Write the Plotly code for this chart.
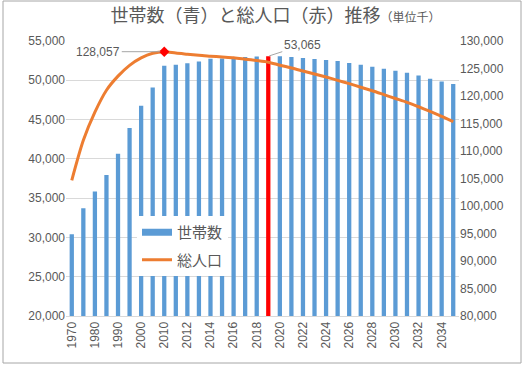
import plotly.graph_objects as go

years = ["1970", "1975", "1980", "1985", "1990", "1995", "2000", "2005",
         "2010", "2011", "2012", "2013", "2014", "2015", "2016", "2017",
         "2018", "2019", "2020", "2021", "2022", "2023", "2024", "2025",
         "2026", "2027", "2028", "2029", "2030", "2031", "2032", "2033",
         "2034", "2035"]

households = [30400, 33700, 35830, 37960, 40650, 43920, 46760, 49080,
              51840, 51970, 52180, 52400, 52740, 52780, 52850, 52950,
              53040, 53065, 53050, 52950, 52830, 52700, 52570, 52440,
              52190, 51970, 51720, 51460, 51210, 50950, 50620, 50190,
              49850, 49520]

population = [104665, 111940, 117060, 121049, 123611, 125570, 126926, 127768,
              128057, 127800, 127600, 127400, 127250, 127100, 126950, 126700,
              126450, 126150, 125600, 125100, 124550, 124000, 123450, 122850,
              122250, 121600, 120950, 120250, 119550, 118850, 118050, 117200,
              116300, 115350]

highlight_year = "2019"
tick_years = years[::2]

BLUE = "#5B9BD5"
ORANGE = "#ED7D31"
RED = "#FF0000"
GREY = "#595959"
NUM_FONT = "Liberation Sans, Arial, sans-serif"
JP_FONT = "Noto Sans CJK JP, sans-serif"

bar_colors = [RED if y == highlight_year else BLUE for y in years]

peak_i = max(range(len(population)), key=lambda i: population[i])
hl_i = years.index(highlight_year)

fig = go.Figure()
fig.add_trace(go.Bar(x=years, y=households, marker_color=bar_colors,
                     marker_line_width=0, showlegend=False, name="世帯数"))
# legend proxy for the bar series (wide bar symbol), no visible data
fig.add_trace(go.Scatter(x=[years[0]], y=[None], mode="lines", name="世帯数",
                         line=dict(color=BLUE, width=7), legendgroup="a",
                         hoverinfo="skip"))
fig.add_trace(go.Scatter(x=years, y=population, mode="lines", name="総人口",
                         yaxis="y2", legendgroup="b",
                         line=dict(color=ORANGE, width=3, shape="spline", smoothing=0.8)))
fig.add_trace(go.Scatter(x=[years[peak_i]], y=[population[peak_i]], mode="markers",
                         yaxis="y2", showlegend=False,
                         marker=dict(symbol="diamond", size=8, color=RED)))

# annotations on a category axis are placed by category index
fig.add_annotation(x=peak_i, y=population[peak_i], xref="x", yref="y2",
                   text=f"{population[peak_i]:,}", showarrow=True, arrowhead=0,
                   arrowwidth=1, arrowcolor="#A6A6A6", ax=-66, ay=0, standoff=4,
                   font=dict(family=NUM_FONT, size=12, color=GREY))
fig.add_annotation(x=hl_i, y=households[hl_i], xref="x", yref="y",
                   text=f"{households[hl_i]:,}", showarrow=True, arrowhead=0,
                   arrowwidth=1, arrowcolor="#A6A6A6", ax=34, ay=-11, standoff=1,
                   font=dict(family=NUM_FONT, size=12, color=GREY))

L, R, T, B = 66, 66, 41, 52
W, H = 525, 368
pw, ph = W - L - R, H - T - B

def px_to_paper_x(px):
    return (px - L) / pw

def px_to_paper_y(py):
    return (H - B - py) / ph

fig.add_shape(type="rect", xref="paper", yref="paper",
              x0=px_to_paper_x(3), x1=px_to_paper_x(521),
              y0=px_to_paper_y(363), y1=px_to_paper_y(1),
              line=dict(color="#A6A6A6", width=1), layer="below")

fig.update_layout(
    width=W, height=H,
    margin=dict(l=L, r=R, t=T, b=B, pad=0, autoexpand=False),
    paper_bgcolor="white", plot_bgcolor="white",
    bargap=0.63,
    title=dict(text="世帯数（青）と総人口（赤）推移<span style='font-size:12px'>（単位千）</span>",
               x=0.525, xanchor="center", y=1 - 16 / H, yanchor="middle",
               font=dict(family=JP_FONT, size=18, color=GREY)),
    xaxis=dict(type="category", categoryorder="array", categoryarray=years,
               range=[-0.5, len(years) - 0.5],
               tickmode="array", tickvals=tick_years,
               ticktext=tick_years, tickangle=-90, showgrid=False,
               showline=True, linecolor="#D9D9D9", linewidth=1, ticks="",
               tickfont=dict(family=NUM_FONT, size=12, color=GREY)),
    yaxis=dict(range=[20000, 55000], dtick=5000, tickformat=",",
               showgrid=True, gridcolor="#D9D9D9", gridwidth=1,
               zeroline=False, showline=False, ticks="",
               tickfont=dict(family=NUM_FONT, size=12, color=GREY)),
    yaxis2=dict(range=[80000, 130000], dtick=5000, tickformat=",",
                overlaying="y", side="right", showgrid=False, zeroline=False,
                showline=False, ticks="",
                tickfont=dict(family=NUM_FONT, size=12, color=GREY)),
    legend=dict(x=px_to_paper_x(137), y=px_to_paper_y(216), xanchor="left",
                yanchor="top", bgcolor="white", borderwidth=0,
                traceorder="grouped", tracegroupgap=5,
                font=dict(family=JP_FONT, size=15, color=GREY)),
    showlegend=True,
)

fig.write_html("out.html", config={"displayModeBar": False},
               post_script="document.body.style.margin='0';document.body.style.overflow='hidden';")
